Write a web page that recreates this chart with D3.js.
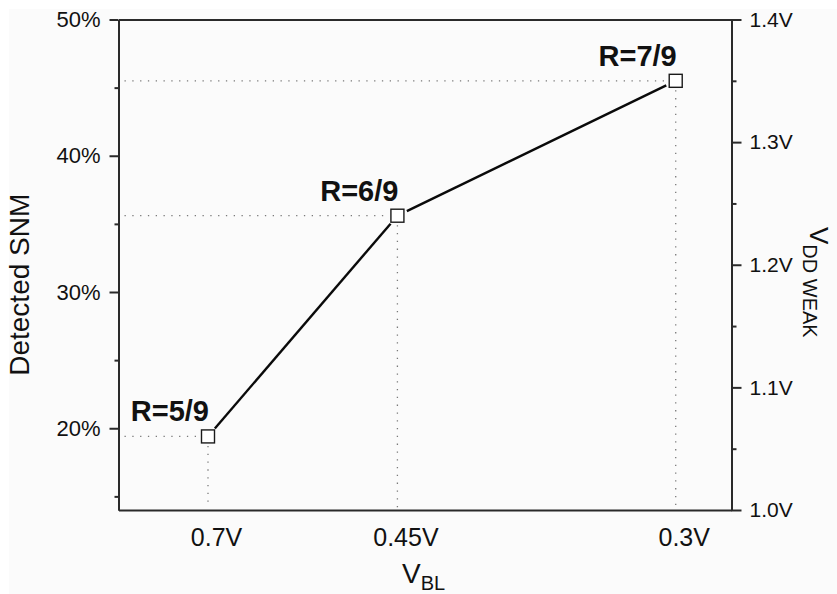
<!DOCTYPE html>
<html>
<head>
<meta charset="utf-8">
<script src="https://cdn.jsdelivr.net/npm/d3@7"></script>
<style>
  html, body { margin: 0; padding: 0; background: #ffffff; }
  svg { display: block; }
  text { font-family: "Liberation Sans", Arial, Helvetica, sans-serif; fill: #111; }
</style>
</head>
<body>
<svg id="chart" width="837" height="594"></svg>
<script>
// Bit-line voltage settings (categories along the x axis)
const vblLabels = ["0.7V", "0.45V", "0.3V"];
// Position of each setting along the x axis (axis units 0..10)
const vblPosition = [1.46, 4.55, 9.09];
// Detected SNM (%) for each setting
const detectedSNM = [19.4, 35.6, 45.5];
// Ratio annotations
const ratioLabels = ["R=5/9", "R=6/9", "R=7/9"];
// Left axis ticks (%)
const snmMajorTicks = [20, 30, 40, 50];
const snmMinorTicks = [15, 25, 35, 45];
// Right axis ticks (V)
const vddMajorTicks = [1.0, 1.1, 1.2, 1.3, 1.4];
const vddMinorTicks = [1.05, 1.15, 1.25, 1.35];

const svg = d3.select("#chart");
const W = 837, H = 594;
const plot = { left: 118.5, right: 731.5, top: 19.5, bottom: 510 };

// faint paper tone
svg.append("rect").attr("x", 0).attr("y", 0).attr("width", W).attr("height", H).attr("fill", "#ffffff");
svg.append("rect").attr("x", 9).attr("y", 9).attr("width", W - 9).attr("height", H - 9).attr("fill", "#fbfbfb");

const x = d3.scaleLinear().domain([0, 10]).range([plot.left, plot.right]);
const yL = d3.scaleLinear().domain([14, 50]).range([plot.bottom, plot.top]);
const yR = d3.scaleLinear().domain([1.0, 1.4]).range([plot.bottom, plot.top]);

const axisColor = "#2a2a2a";

// Left axis: major + minor ticks
const leftMajor = d3.axisLeft(yL).tickValues(snmMajorTicks).tickSize(9).tickSizeOuter(0)
  .tickFormat(d => d + "%").tickPadding(9);
const leftMinor = d3.axisLeft(yL).tickValues(snmMinorTicks).tickSize(4).tickSizeOuter(0).tickFormat("");
const gLm = svg.append("g").attr("transform", `translate(${plot.left},0)`).call(leftMinor);
const gL = svg.append("g").attr("transform", `translate(${plot.left},0)`).call(leftMajor);

// Right axis: major + minor ticks
const rightMajor = d3.axisRight(yR).tickValues(vddMajorTicks).tickSize(10).tickSizeOuter(0)
  .tickFormat(d => d3.format(".1f")(d) + "V").tickPadding(8);
const rightMinor = d3.axisRight(yR).tickValues(vddMinorTicks).tickSize(5).tickSizeOuter(0).tickFormat("");
const gRm = svg.append("g").attr("transform", `translate(${plot.right},0)`).call(rightMinor);
const gR = svg.append("g").attr("transform", `translate(${plot.right},0)`).call(rightMajor);

// Bottom axis: labels only, offset slightly right of each point
const bottomAxis = d3.axisBottom(x).tickValues(vblPosition).tickSize(0).tickSizeOuter(0)
  .tickFormat((d, i) => vblLabels[i]).tickPadding(0);
const gB = svg.append("g").attr("transform", `translate(0,${plot.bottom})`).call(bottomAxis);

// Top frame line
const topAxis = d3.axisTop(x).tickValues([]).tickSizeOuter(0);
const gT = svg.append("g").attr("transform", `translate(0,${plot.top})`).call(topAxis);

[gL, gLm, gR, gRm, gB, gT].forEach(g => {
  g.selectAll(".domain").attr("stroke", axisColor).attr("stroke-width", 2);
  g.selectAll(".tick line").attr("stroke", axisColor).attr("stroke-width", 2);
});
gL.selectAll(".tick text").attr("font-size", 22).attr("fill", "#111").attr("font-family", null);
gR.selectAll(".tick text").attr("font-size", 21).attr("fill", "#111").attr("font-family", null);
gB.selectAll(".tick text").attr("font-size", 25).attr("fill", "#111").attr("font-family", null)
  .attr("dy", null).attr("y", 35.7).attr("x", 8);

// Data points
const pts = detectedSNM.map((v, i) => ({ px: x(vblPosition[i]), py: yL(v), label: ratioLabels[i] }));
const half = 6.5;

// Dotted guide lines to the axes
const guides = svg.append("g").attr("stroke", "#7a7a7a").attr("stroke-width", 1.3)
  .attr("stroke-dasharray", "1.3,6.5").attr("fill", "none");
pts.forEach(p => {
  guides.append("line").attr("x1", plot.left + 6).attr("x2", p.px - half - 3)
    .attr("y1", p.py).attr("y2", p.py);
  guides.append("line").attr("x1", p.px).attr("x2", p.px)
    .attr("y1", p.py + half + 3).attr("y2", plot.bottom - 2);
});

// Connecting line, with gaps around the symbols
const gap = 10.5;
const lineG = svg.append("g").attr("stroke", "#0a0a0a").attr("stroke-width", 2.4).attr("fill", "none");
for (let i = 0; i < pts.length - 1; i++) {
  const a = pts[i], b = pts[i + 1];
  const dx = b.px - a.px, dy = b.py - a.py, len = Math.hypot(dx, dy);
  const ux = dx / len, uy = dy / len;
  lineG.append("line")
    .attr("x1", a.px + ux * gap).attr("y1", a.py + uy * gap)
    .attr("x2", b.px - ux * gap).attr("y2", b.py - uy * gap);
}

// Open square markers
svg.append("g").selectAll("rect").data(pts).join("rect")
  .attr("x", d => d.px - half).attr("y", d => d.py - half)
  .attr("width", 2 * half).attr("height", 2 * half)
  .attr("fill", "#ffffff").attr("stroke", "#1a1a1a").attr("stroke-width", 1.4);

// Ratio annotations
svg.append("g").selectAll("text").data(pts).join("text")
  .attr("x", d => d.px + 1).attr("y", d => d.py - 15)
  .attr("text-anchor", "end").attr("font-size", 29).attr("font-weight", "bold")
  .text(d => d.label);

// Axis titles
svg.append("text").attr("transform", `translate(28.5,${(plot.top + plot.bottom) / 2 + 20}) rotate(-90)`)
  .attr("text-anchor", "middle").attr("font-size", 28).text("Detected SNM");

const xt = svg.append("text").attr("x", 402).attr("y", 583).attr("font-size", 28);
xt.append("tspan").text("V");
xt.append("tspan").attr("font-size", 20).attr("dy", 7).text("BL");

const yt = svg.append("text").attr("transform", "translate(810,227) rotate(90)").attr("font-size", 26);
yt.append("tspan").text("V");
yt.append("tspan").attr("font-size", 20).attr("dy", 7).text("DD WEAK");
</script>
</body>
</html>
